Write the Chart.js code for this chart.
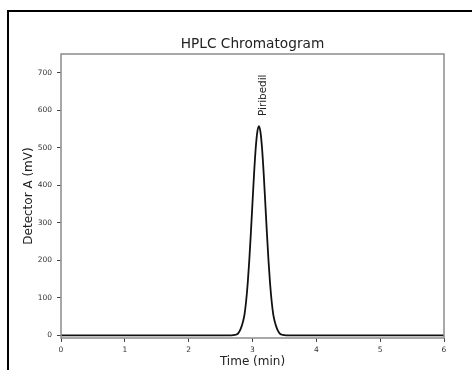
<!DOCTYPE html>
<html>
<head>
<meta charset="utf-8">
<title>HPLC Chromatogram</title>
<script src="https://cdn.jsdelivr.net/npm/chart.js"></script>
<style>
    html, body { margin: 0; padding: 0; background: #fff; overflow: hidden; }
    #wrap { position: relative; width: 472px; height: 370px; }
    #chromatogram { position: absolute; left: 0; top: 0; }
    #frame { position: absolute; left: 7px; top: 10px; width: 700px; height: 600px; border: 2px solid #000; }
</style>
</head>
<body>
<div id="wrap">
    <canvas id="chromatogram" width="472" height="370"></canvas>
    <div id="frame"></div>
</div>
<script>
// retention time (min) and detector signal (mV)
var timeMin = [0, 2.5, 2.6, 2.65, 2.7, 2.725, 2.75, 2.775, 2.8, 2.825, 2.85, 2.875,
    2.9, 2.925, 2.95, 2.975, 3.0, 3.025, 3.05, 3.075, 3.1, 3.125, 3.15, 3.175,
    3.2, 3.225, 3.25, 3.275, 3.3, 3.325, 3.35, 3.375, 3.4, 3.425, 3.45, 3.475,
    3.5, 3.55, 3.6, 3.7, 6];
var signalMv = [0, 0, 0, 0, 0.5, 1, 2.5, 5.5, 12, 22, 36, 56,
    91, 139, 201, 275, 354, 432, 498, 542, 558, 542, 498, 432,
    354, 275, 201, 139, 91, 56, 36, 22, 12, 5.5, 2.5, 1,
    0.5, 0, 0, 0, 0];

var peakNames = ['Piribedil'];
var peakTimes = [3.1];

var xTicks = [0, 1, 2, 3, 4, 5, 6];
var yTicks = [0, 100, 200, 300, 400, 500, 600, 700];

var chartTitle = 'HPLC Chromatogram';

var points = timeMin.map(function(t, i) {
    return {x: t, y: signalMv[i]};
});

function fixedTicks(list) {
    return function(scale) {
        scale.ticks = list.map(function(v) { return {value: v}; });
    };
}

// matplotlib style box round the axes, title centred over it
var axesBox = {
    id: 'axesBox',
    afterDatasetsDraw: function(chart) {
        var a = chart.chartArea;
        var ctx = chart.ctx;
        ctx.save();
        ctx.strokeStyle = '#8c8c8c';
        ctx.lineWidth = 1.5;
        ctx.strokeRect(a.left, a.top, a.right - a.left, a.bottom - a.top);
        ctx.font = '13.7px "DejaVu Sans"';
        ctx.fillStyle = '#222';
        ctx.textAlign = 'center';
        ctx.textBaseline = 'middle';
        ctx.fillText(chartTitle, (a.left + a.right) / 2, a.top - 10);
        ctx.restore();
    }
};

// vertical peak names above each apex
var peakLabels = {
    id: 'peakLabels',
    afterDatasetsDraw: function(chart) {
        var ctx = chart.ctx;
        var xs = chart.scales.x;
        var ys = chart.scales.y;
        ctx.save();
        ctx.font = '10.4px "DejaVu Sans"';
        ctx.fillStyle = '#222';
        ctx.textAlign = 'left';
        ctx.textBaseline = 'middle';
        peakNames.forEach(function(name, i) {
            var idx = timeMin.indexOf(peakTimes[i]);
            var px = xs.getPixelForValue(peakTimes[i]);
            var py = ys.getPixelForValue(signalMv[idx]);
            ctx.save();
            ctx.translate(px + 4, py - 10);
            ctx.rotate(-Math.PI / 2);
            ctx.fillText(name, 0, 0);
            ctx.restore();
        });
        ctx.restore();
    }
};

var chart = new Chart(document.getElementById('chromatogram'), {
    type: 'line',
    data: {
        datasets: [{
            data: points,
            borderColor: '#111',
            borderWidth: 1.8,
            pointRadius: 0,
            fill: false,
            cubicInterpolationMode: 'monotone'
        }]
    },
    options: {
        responsive: false,
        animation: false,
        devicePixelRatio: 1,
        layout: {
            padding: {left: 10, right: 28, top: 54, bottom: 0}
        },
        plugins: {
            legend: {display: false},
            tooltip: {enabled: false},
            title: {display: false}
        },
        scales: {
            x: {
                type: 'linear',
                min: 0,
                max: 6,
                afterBuildTicks: fixedTicks(xTicks),
                afterFit: function(scale) { scale.height = 32; },
                border: {display: false},
                grid: {drawOnChartArea: false, drawTicks: true, tickLength: 4, color: '#444'},
                ticks: {color: '#333', padding: 4, maxRotation: 0,
                    font: {family: '"DejaVu Sans"', size: 7.5}},
                title: {
                    display: true,
                    text: 'Time (min)',
                    color: '#222',
                    font: {family: '"DejaVu Sans"', size: 12},
                    padding: {top: 0, bottom: 1}
                }
            },
            y: {
                type: 'linear',
                min: -7,
                max: 750,
                afterBuildTicks: fixedTicks(yTicks),
                afterFit: function(scale) { scale.width = 51; },
                border: {display: false},
                grid: {drawOnChartArea: false, drawTicks: true, tickLength: 4, color: '#444'},
                ticks: {color: '#333', padding: 5,
                    font: {family: '"DejaVu Sans"', size: 7.5}},
                title: {
                    display: true,
                    text: 'Detector A (mV)',
                    color: '#222',
                    font: {family: '"DejaVu Sans"', size: 12},
                    padding: {top: 12, bottom: 0}
                }
            }
        }
    },
    plugins: [axesBox, peakLabels]
});
</script>
</body>
</html>
